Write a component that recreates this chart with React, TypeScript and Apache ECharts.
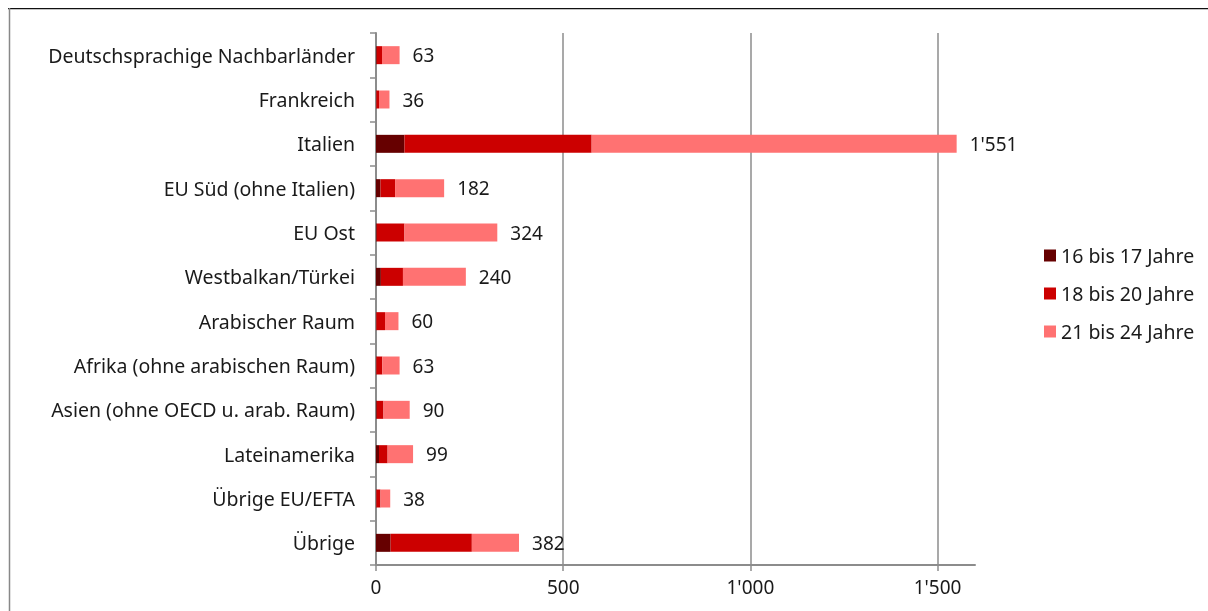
import React, { useEffect, useRef } from "react";
import * as echarts from "echarts";

const categories = [
  "Deutschsprachige Nachbarländer",
  "Frankreich",
  "Italien",
  "EU Süd (ohne Italien)",
  "EU Ost",
  "Westbalkan/Türkei",
  "Arabischer Raum",
  "Afrika (ohne arabischen Raum)",
  "Asien (ohne OECD u. arab. Raum)",
  "Lateinamerika",
  "Übrige EU/EFTA",
  "Übrige",
];
const age16to17 = [2, 1, 76, 12, 2, 13, 1, 1, 2, 8, 1, 39];
const age18to20 = [14, 7, 500, 39, 74, 59, 23, 16, 18, 23, 11, 217];
const age21to24 = [47, 28, 975, 131, 248, 168, 36, 46, 70, 68, 26, 126];
const totals = [63, 36, 1551, 182, 324, 240, 60, 63, 90, 99, 38, 382];
const xTicks = [0, 500, 1000, 1500];

const fmt = (v: number) => String(v).replace(/\B(?=(\d{3})+(?!\d))/g, "'");

const FONT = "Noto Sans";
const TXT = "#1a1a1a";

export default function App() {
  const ref = useRef<HTMLDivElement>(null);
  useEffect(() => {
    if (!ref.current) return;
    const chart = echarts.init(ref.current, null, { renderer: "svg" });
    const grey = "#8c8c8c";
    const mk = (name: string, data: number[], color: string, last: boolean) => ({
      name,
      type: "bar",
      stack: "total",
      data,
      barWidth: 18,
      itemStyle: { color },
      label: last
        ? {
            show: true,
            position: "right",
            distance: 13,
            formatter: (p: any) => fmt(totals[p.dataIndex]),
            fontFamily: FONT,
            fontSize: 19,
            color: TXT,
          }
        : { show: false },
    });
    chart.setOption({
      animation: false,
      textStyle: { fontFamily: FONT },
      graphic: [
        { type: "line", shape: { x1: 0, y1: 0.5, x2: 1200, y2: 0.5 }, style: { stroke: "#111", lineWidth: 1.5 } },
        { type: "line", shape: { x1: 1.5, y1: 0, x2: 1.5, y2: 603 }, style: { stroke: "#888", lineWidth: 1.5 } },
      ],
      grid: { left: 368, right: 233, top: 25, bottom: 46, containLabel: false },
      legend: {
        orient: "vertical",
        left: 1031,
        top: 232,
        itemWidth: 12,
        itemHeight: 12,
        itemGap: 17,
        icon: "rect",
        textStyle: { fontFamily: FONT, fontSize: 19.5, color: TXT, lineHeight: 21 },
        data: ["16 bis 17 Jahre", "18 bis 20 Jahre", "21 bis 24 Jahre"],
      },
      xAxis: {
        type: "value",
        min: 0,
        max: 1600,
        interval: 500,
        axisLine: { show: true, lineStyle: { color: grey, width: 2 } },
        axisTick: { show: true, length: 6, lineStyle: { color: grey, width: 1.5 }, customValues: xTicks },
        axisLabel: {
          customValues: xTicks,
          formatter: (v: number) => fmt(v),
          fontFamily: FONT,
          fontSize: 19,
          color: TXT,
          margin: 12,
        },
        splitLine: { show: true, showMinLine: false, showMaxLine: true, lineStyle: { color: grey, width: 1.5 } },
      },
      yAxis: {
        type: "category",
        data: categories,
        inverse: true,
        axisLine: { show: true, lineStyle: { color: grey, width: 2 } },
        axisTick: { show: true, length: 6, lineStyle: { color: grey, width: 1.5 } },
        axisLabel: { fontFamily: FONT, fontSize: 19.5, color: TXT, margin: 21 },
        splitLine: { show: false },
      },
      series: [
        mk("16 bis 17 Jahre", age16to17, "#660000", false),
        mk("18 bis 20 Jahre", age18to20, "#cc0000", false),
        mk("21 bis 24 Jahre", age21to24, "#ff7272", true),
      ],
    });
    return () => chart.dispose();
  }, []);
  return (
    <div
      ref={ref}
      style={{ position: "fixed", left: 8, top: 8, width: 1200, height: 603 }}
    />
  );
}
